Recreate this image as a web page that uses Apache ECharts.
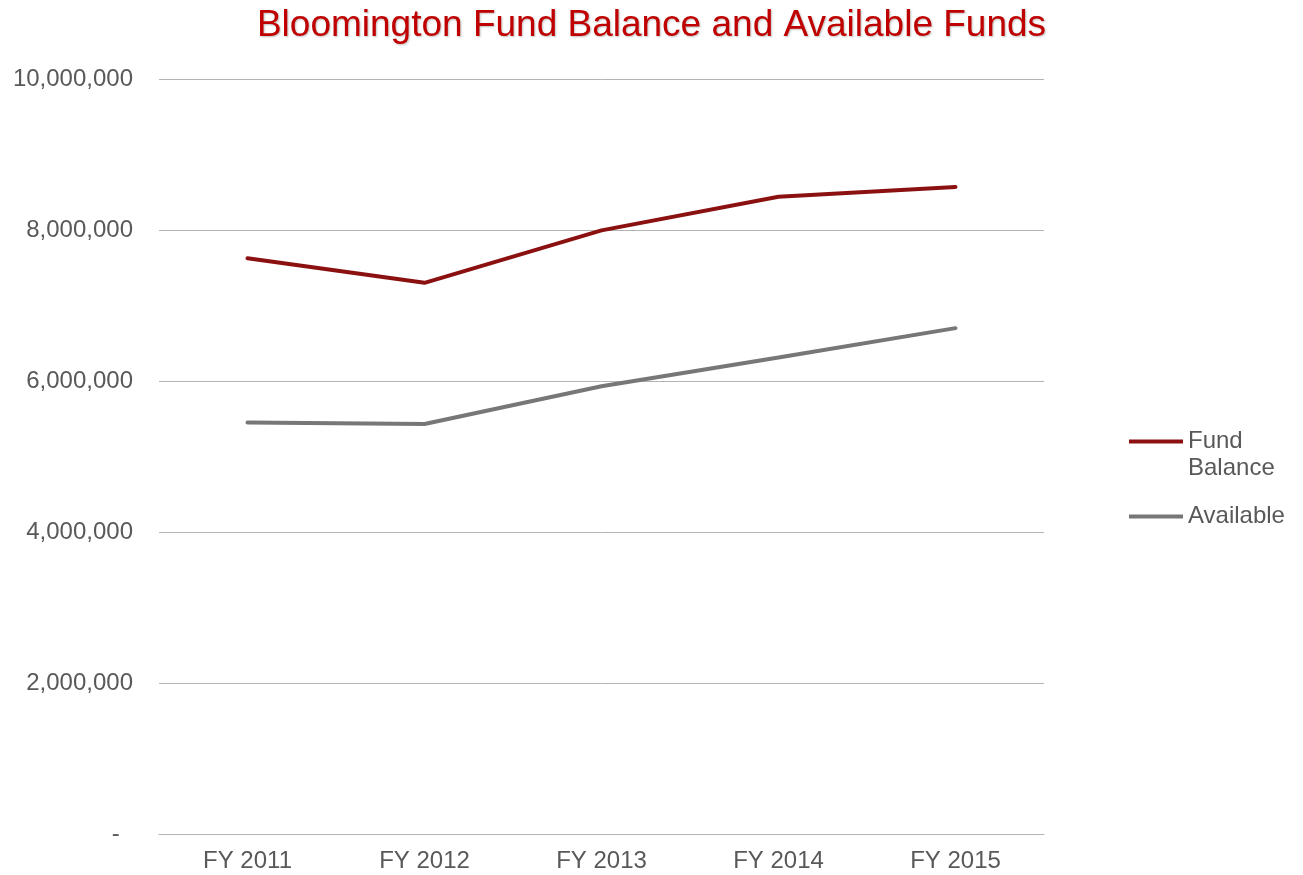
<!DOCTYPE html>
<html>
<head>
<meta charset="utf-8">
<title>Bloomington Fund Balance and Available Funds</title>
<script src="https://cdn.jsdelivr.net/npm/echarts@6/dist/echarts.min.js"></script>
<style>
    html, body {
        margin: 0;
        padding: 0;
        background: #fff;
    }

    #chart {
        width: 1303px;
        height: 875px;
    }
</style>
</head>
<body>
<div id="chart"></div>
<script>
// values
var years = ['FY 2011', 'FY 2012', 'FY 2013', 'FY 2014', 'FY 2015']
var fundBalance = [7625000, 7300000, 7995000, 8440000, 8570000]
var available = [5450000, 5430000, 5930000, 6310000, 6700000]
var yTicks = [0, 2000000, 4000000, 6000000, 8000000, 10000000]

var labelColor = '#595959'
var font = '"Liberation Sans", Arial, sans-serif'
var redLine = '#8b1111'
var greyLine = '#777777'

// legend icons: a 4px bar inside a 54x31 box (the empty points only stretch the box)
// top bar for the two-line "Fund Balance" entry, middle bar for "Available"
var iconTop = 'path://M0,0H54V4H0Z M0,31L0,31'
var iconMid = 'path://M0,13.5H54V17.5H0Z M0,0L0,0 M0,31L0,31'

var myChart = echarts.init(document.getElementById('chart'))
myChart.setOption({
    animation: false,
    title: {
        text: 'Bloomington Fund Balance and Available Funds',
        left: 'center',
        top: 2,
        textStyle: {
            color: '#c00000',
            fontSize: 37,
            fontWeight: 'normal',
            fontFamily: font,
            textShadowColor: 'rgba(0,0,0,0.25)',
            textShadowBlur: 2,
            textShadowOffsetX: 1,
            textShadowOffsetY: 1
        }
    },
    legend: {
        orient: 'vertical',
        left: 1129,
        top: 428,
        padding: 0,
        itemWidth: 54,
        itemHeight: 31,
        itemGap: 19,
        formatter: function (name) {
            return name === 'Fund Balance' ? 'Fund\nBalance' : name
        },
        textStyle: {
            color: labelColor,
            fontSize: 24,
            lineHeight: 27,
            fontFamily: font
        },
        data: [
            { name: 'Fund Balance', icon: iconTop, itemStyle: { color: redLine } },
            { name: 'Available', icon: iconMid, itemStyle: { color: greyLine } }
        ]
    },
    grid: {
        left: 159,
        top: 79,
        width: 885,
        height: 755,
        containLabel: false
    },
    xAxis: {
        type: 'category',
        data: years,
        boundaryGap: true,
        axisTick: { show: false },
        axisLine: { lineStyle: { color: '#b3b3b3', width: 1 } },
        axisLabel: {
            color: labelColor,
            fontSize: 24,
            fontFamily: font,
            margin: 15
        }
    },
    yAxis: {
        type: 'value',
        min: yTicks[0],
        max: yTicks[yTicks.length - 1],
        interval: yTicks[1] - yTicks[0],
        axisLine: { show: false },
        axisTick: { show: false },
        splitLine: { lineStyle: { color: '#b3b3b3', width: 1 } },
        axisLabel: {
            color: labelColor,
            fontSize: 24,
            fontFamily: font,
            margin: 26,
            formatter: function (v) {
                if (v === 0) return '-  '
                return String(v).replace(/\B(?=(\d{3})+(?!\d))/g, ',')
            }
        }
    },
    series: [{
        name: 'Fund Balance',
        type: 'line',
        data: fundBalance,
        symbol: 'none',
        lineStyle: { color: redLine, width: 4, cap: 'round' },
        itemStyle: { color: redLine }
    }, {
        name: 'Available',
        type: 'line',
        data: available,
        symbol: 'none',
        lineStyle: { color: greyLine, width: 4, cap: 'round' },
        itemStyle: { color: greyLine }
    }]
})
</script>
</body>
</html>
